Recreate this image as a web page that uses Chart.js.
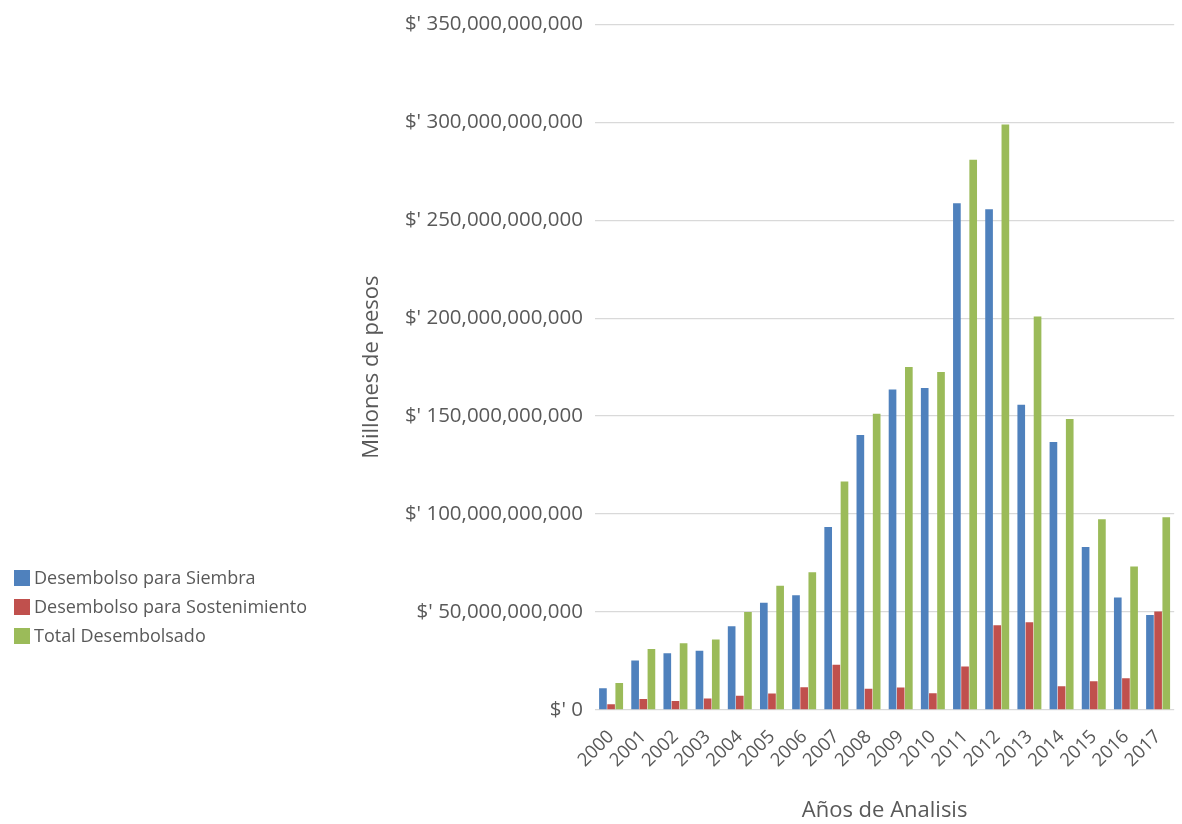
<!DOCTYPE html>
<html>
<head>
<meta charset="utf-8">
<script src="https://cdn.jsdelivr.net/npm/chart.js@4.4.0/dist/chart.umd.min.js"></script>
<style>
  body { margin: 0; background: #fff; font-family: "Open Sans", sans-serif; }
  #wrap { position: relative; width: 1182px; height: 824px; }
  #legend { position: absolute; left: 14px; top: 563px; font-size: 18px; color: #595959; line-height: 29px; }
  #legend .sw { display: inline-block; width: 16px; height: 16px; margin-right: 4px; vertical-align: -2px; }
</style>
</head>
<body>
<div id="wrap">
  <canvas id="chart"></canvas>
  <div id="legend"></div>
</div>
<script>
// data (values in pesos)
const years = ['2000', '2001', '2002', '2003', '2004', '2005', '2006', '2007', '2008',
  '2009', '2010', '2011', '2012', '2013', '2014', '2015', '2016', '2017'];
const siembra = [11.1, 25.3, 29.0, 30.2, 42.7, 54.7, 58.6, 93.4, 140.4,
  163.6, 164.4, 258.6, 255.6, 155.8, 136.8, 83.2, 57.4, 48.5];
const sostenimiento = [2.9, 5.6, 4.6, 5.8, 7.3, 8.4, 11.6, 23.1, 10.8,
  11.5, 8.5, 22.2, 43.2, 44.8, 12.1, 14.7, 16.2, 50.3];
const total = [13.8, 31.1, 34.0, 36.0, 50.0, 63.4, 70.3, 116.6, 151.2,
  175.1, 172.5, 280.8, 298.8, 200.8, 148.5, 97.4, 73.3, 98.4];
const seriesNames = ['Desembolso para Siembra', 'Desembolso para Sostenimiento', 'Total Desembolsado'];
const seriesColors = ['#4f81bd', '#c0504d', '#9bbb59'];
const BILLION = 1e9;

document.addEventListener('DOMContentLoaded', () => {
  const grey = '#595959';
  const font = 'Open Sans';
  const toPesos = arr => arr.map(v => v * BILLION);

  const datasets = [siembra, sostenimiento, total].map((vals, i) => ({
    label: seriesNames[i],
    data: toPesos(vals),
    backgroundColor: seriesColors[i],
    categoryPercentage: 0.76,
    barPercentage: 0.94
  }));

  const ctx = document.getElementById('chart').getContext('2d');
  new Chart(ctx, {
    type: 'bar',
    data: { labels: years, datasets: datasets },
    options: {
      responsive: true,
      maintainAspectRatio: false,
      animation: false,
      layout: { padding: { left: 355, right: 7, top: 19, bottom: 0 } },
      plugins: {
        legend: { display: false },
        tooltip: { enabled: false }
      },
      scales: {
        y: {
          min: 0,
          max: 350 * BILLION,
          afterFit: axis => { axis.width = 240; },
          border: { display: false },
          grid: { color: '#d9d9d9', drawTicks: false, lineWidth: 1.3 },
          ticks: {
            stepSize: 50 * BILLION,
            padding: 12,
            color: grey,
            font: { family: font, size: 20.5 },
            callback: value => "$' " + value.toLocaleString('en-US')
          },
          title: {
            display: true,
            text: 'Millones de pesos',
            color: grey,
            font: { family: font, size: 22 },
            padding: { bottom: 4 }
          }
        },
        x: {
          border: { display: false },
          grid: { display: false },
          ticks: {
            color: grey,
            autoSkip: false,
            maxRotation: 45,
            minRotation: 45,
            padding: 8,
            font: { family: font, size: 18.5 }
          },
          title: {
            display: true,
            text: 'Años de Analisis',
            color: grey,
            font: { family: font, size: 22 },
            padding: { top: 18, bottom: 0 }
          }
        }
      }
    }
  });

  // legend as plain text on the left
  const legend = document.getElementById('legend');
  legend.innerHTML = seriesNames.map((name, i) =>
    `<div><span class="sw" style="background:${seriesColors[i]}"></span>${name}</div>`
  ).join('');
});
</script>
</body>
</html>
